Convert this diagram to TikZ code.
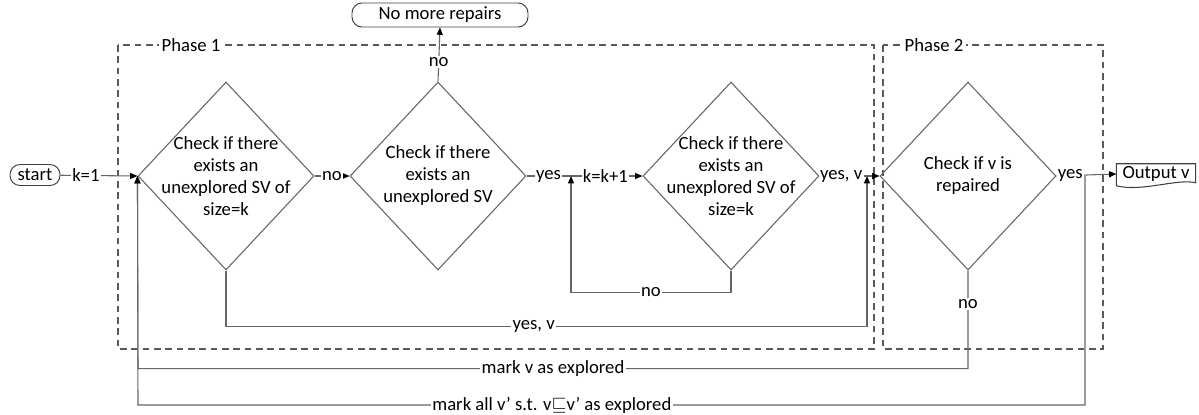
\documentclass[tikz,border=0pt]{standalone}
\usepackage{fontspec}
\setmainfont{Carlito}
\usepackage{amssymb}
\usetikzlibrary{shapes.geometric,arrows.meta,calc}
\definecolor{linegray}{HTML}{666666}
\definecolor{dashgray}{HTML}{5A5A5A}
\begin{document}
\begin{tikzpicture}[x=0.75pt,y=-0.75pt,
  every node/.style={font=\fontsize{14}{16.5}\selectfont},
  line/.style={draw=linegray, line width=0.8pt},
  arr/.style={line, -{Triangle[length=5.5pt,width=4.5pt,color=black]}},
  dia/.style={diamond, draw=linegray, line width=0.8pt, minimum width=132pt, minimum height=141pt, inner sep=0pt},
  dtext/.style={align=center},
  lab/.style={fill=white, inner sep=1pt},
  pill/.style={draw=black!75, line width=0.7pt, rounded corners=7.5pt, inner sep=0pt},
  phase/.style={draw=dashgray, line width=0.8pt, dash pattern=on 5pt off 3.5pt}
]
\useasboundingbox (0,0) rectangle (1199,414);

% phase boxes
\draw[phase] (118,45) rectangle (874,349);
\draw[phase] (883,45) rectangle (1103,349);
\node[fill=white, inner sep=2pt] (ph1) at (191,45) {Phase 1};
\node[fill=white, inner sep=2pt] (ph2) at (934,45) {Phase 2};

% nodes
\node[pill, minimum width=37.5pt, minimum height=15.75pt] (start) at (35,175) {start};
\node[pill, minimum width=132pt, minimum height=18pt] (nm) at (440,15) {No more repairs};

\node[dia] (d1) at (226,176) {};
\node[dtext] at (d1) {Check if there\\exists an\\unexplored SV of\\size=k};
\node[dia] (d2) at (438,176) {};
\node[dtext] at (d2) {Check if there\\exists an\\unexplored SV};
\node[dia] (d3) at (731,176) {};
\node[dtext] at (d3) {Check if there\\exists an\\unexplored SV of\\size=k};
\node[dia] (d4) at (968,176) {};
\node[dtext] at (d4) {Check if v is\\repaired};

\node[minimum width=59pt, minimum height=15pt, inner sep=0pt] (out) at (1156,174) {Output v};
\draw[line, draw=black!75] (out.north west) -- (out.north east) -- ($(out.south east)+(0,-1.5)$)
  .. controls ($(out.south east)+(-18,-6)$) and ($(out.south west)+(25,8)$) .. ($(out.south west)+(0,1.5)$) -- cycle;

\coordinate (j1) at (571,176);
\coordinate (j2) at (867,176);
\coordinate (j3) at (1085,176);

% connectors
\draw[arr] (start) -- node[lab, pos=0.33]{k=1} (d1.west);
\draw[arr] (d1.east) -- node[lab]{no} (d2.west);
\draw[arr] (d2.north) -- node[lab, pos=0.36]{no} (nm.south);
\draw[arr] (d2.east) -- node[lab, pos=0.19]{yes} node[lab, pos=0.68]{k=k+1} (d3.west);
\draw[arr] (d3.south) -- ++(0,22) -| node[lab, pos=0.25]{no} (j1);
\draw[arr] (d3.east) -- node[lab, pos=0.36]{yes, v} (d4.west);
\draw[arr] (d1.south) -- ++(0,56) -| node[lab, pos=0.24]{yes, v} (j2);
\draw[arr] (d4.east) -- node[lab, pos=0.23]{yes} (out.west);
\draw[arr] (d4.south) -- node[lab, pos=0.34]{no} ++(0,98) -- node[lab, pos=0.5]{mark v as explored} ++(-830,0) -- (d1.west);
\draw[arr] (j3) -- ++(0,229) -- node[lab, pos=0.563]{mark all v’ s.t. v$\sqsubseteq$v’ as explored} ++(-947,0) -- (d1.west);
\end{tikzpicture}
\end{document}
